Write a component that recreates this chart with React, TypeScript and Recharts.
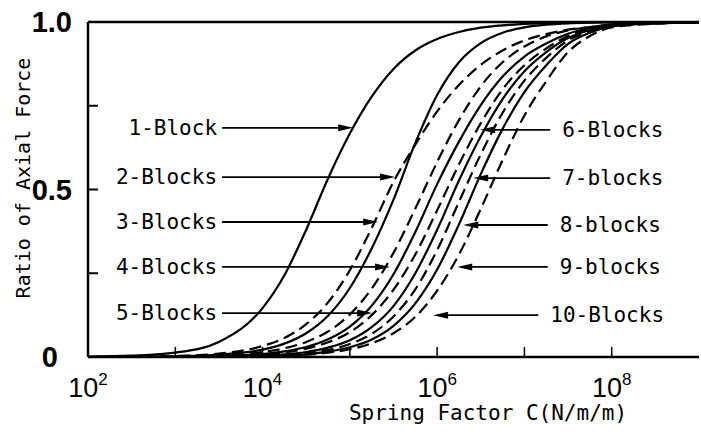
import { LineChart, Line, XAxis, YAxis, ReferenceLine } from "recharts";

// spring factor C, sampled every quarter/half decade
const springFactor = [
  100, 316, 1000, 3162, 10000, 17783, 31623, 56234, 100000, 177828, 316228,
  562341, 1000000, 1778279, 3162278, 5623413, 10000000, 17782794, 31622777,
  56234133, 100000000, 316227766, 1000000000,
];

const block1 = [0.001, 0.004, 0.013, 0.045, 0.146, 0.244, 0.38, 0.533, 0.667, 0.777, 0.86, 0.915, 0.949, 0.97, 0.983, 0.99, 0.994, 0.997, 0.998, 0.999, 1, 1, 1];
const block2 = [0, 0.001, 0.003, 0.01, 0.033, 0.057, 0.098, 0.163, 0.259, 0.385, 0.523, 0.634, 0.733, 0.812, 0.872, 0.915, 0.945, 0.964, 0.977, 0.985, 0.991, 0.996, 0.998];
const block3 = [0, 0.0005, 0.002, 0.007, 0.022, 0.04, 0.071, 0.123, 0.206, 0.324, 0.47, 0.639, 0.782, 0.88, 0.937, 0.968, 0.984, 0.992, 0.996, 0.998, 0.999, 1, 1];
const block4 = [0, 0.0005, 0.0015, 0.005, 0.015, 0.026, 0.045, 0.076, 0.127, 0.204, 0.311, 0.443, 0.582, 0.707, 0.808, 0.88, 0.927, 0.957, 0.975, 0.985, 0.991, 0.997, 0.999];
const block5 = [0, 0, 0.001, 0.003, 0.009, 0.017, 0.03, 0.053, 0.091, 0.153, 0.247, 0.373, 0.516, 0.643, 0.752, 0.837, 0.897, 0.936, 0.965, 0.982, 0.993, 0.997, 0.999];
const block6 = [0, 0, 0.001, 0.003, 0.008, 0.014, 0.025, 0.044, 0.074, 0.125, 0.201, 0.306, 0.438, 0.575, 0.698, 0.799, 0.871, 0.921, 0.958, 0.979, 0.991, 0.997, 0.999];
const block7 = [0, 0, 0, 0.001, 0.005, 0.008, 0.015, 0.028, 0.05, 0.089, 0.152, 0.25, 0.38, 0.527, 0.659, 0.77, 0.853, 0.91, 0.952, 0.976, 0.99, 0.997, 0.999];
const block8 = [0, 0, 0, 0.001, 0.003, 0.006, 0.012, 0.021, 0.039, 0.069, 0.121, 0.202, 0.319, 0.463, 0.605, 0.729, 0.825, 0.893, 0.945, 0.973, 0.989, 0.996, 0.999];
const block9 = [0, 0, 0, 0, 0.002, 0.005, 0.008, 0.016, 0.029, 0.052, 0.093, 0.16, 0.261, 0.396, 0.546, 0.681, 0.791, 0.871, 0.935, 0.968, 0.987, 0.996, 0.999];
const block10 = [0, 0, 0, 0, 0.002, 0.004, 0.007, 0.013, 0.023, 0.041, 0.071, 0.12, 0.198, 0.306, 0.442, 0.588, 0.721, 0.823, 0.91, 0.958, 0.984, 0.995, 0.999];

const seriesValues = [block1, block2, block3, block4, block5, block6, block7, block8, block9, block10];
const seriesNames = ["1-Block", "2-Blocks", "3-Blocks", "4-Blocks", "5-Blocks", "6-Blocks", "7-blocks", "8-blocks", "9-blocks", "10-Blocks"];
const dashedSeries = [false, true, false, true, false, true, false, true, false, true];

const xTicks = [1e2, 1e4, 1e6, 1e8];
const xMinorTicks = [1e3, 1e4, 1e5, 1e6, 1e7, 1e8];
const yTicks = [0, 0.5, 1];
const yMinorTicks = [0.25, 0.5, 0.75];

// arrow callouts: tail C, head C, ratio
const leftNotes = [
  { label: "1-Block", from: 3436, to: 109000, y: 0.684 },
  { label: "2-Blocks", from: 3436, to: 330000, y: 0.537 },
  { label: "3-Blocks", from: 3436, to: 211000, y: 0.403 },
  { label: "4-Blocks", from: 3436, to: 289000, y: 0.269 },
  { label: "5-Blocks", from: 3436, to: 180000, y: 0.131 },
];
const rightNotes = [
  { label: "6-Blocks", from: 19700000, to: 3110000, y: 0.678 },
  { label: "7-blocks", from: 19700000, to: 2590000, y: 0.534 },
  { label: "8-blocks", from: 18500000, to: 1990000, y: 0.394 },
  { label: "9-blocks", from: 18500000, to: 1700000, y: 0.269 },
  { label: "10-Blocks", from: 14400000, to: 900000, y: 0.125 },
];

const data = springFactor.map((c, i) => {
  const row: Record<string, number> = { c };
  seriesValues.forEach((s, k) => {
    row["b" + (k + 1)] = s[i];
  });
  return row;
});

const MONO = "'DejaVu Sans Mono', monospace";
const SANS = "'Liberation Sans', Arial, sans-serif";

function XTick({ x, y, payload }: any) {
  const exp = Math.round(Math.log10(payload.value));
  return (
    <text x={x} y={y + 32} textAnchor="middle" fontFamily={SANS} fontSize={27} fill="#000">
      <tspan>10</tspan>
      <tspan dy={-12} fontSize={17}>
        {exp}
      </tspan>
    </text>
  );
}

function YTick({ x, y, payload }: any) {
  const v = payload.value;
  const label = v === 0 ? "0" : v.toFixed(1);
  const dx = v === 0 ? -22 : -8;
  const dy = v === 0 ? 10 : 10;
  return (
    <text x={x + dx} y={y + dy} textAnchor="end" fontFamily={SANS} fontWeight="bold" fontSize={29} fill="#000">
      {label}
    </text>
  );
}

function Arrow(props: any) {
  const { x1, y1, x2, y2, label, side } = props;
  const dir = x2 > x1 ? 1 : -1;
  const len = 15;
  const half = 3.5;
  const tx = side === "left" ? x1 - 5 : x1 + 12;
  return (
    <g>
      <line x1={x1} y1={y1} x2={x2 - dir * len * 0.6} y2={y2} stroke="#000" strokeWidth={1.8} />
      <polygon
        points={`${x2},${y2} ${x2 - dir * len},${y2 - half} ${x2 - dir * len},${y2 + half}`}
        fill="#000"
      />
      <text
        x={tx}
        y={y1}
        dominantBaseline="central"
        textAnchor={side === "left" ? "end" : "start"}
        fontFamily={MONO}
        fontSize={21}
        fill="#000"
      >
        {label}
      </text>
    </g>
  );
}

export default function App() {
  return (
    <div style={{ position: "absolute", left: 0, top: 0, width: 701, height: 432, background: "#fff" }}>
      <LineChart width={701} height={432} data={data} margin={{ top: 22, right: 2, bottom: 25, left: 28 }}>
        <XAxis
          dataKey="c"
          type="number"
          scale="log"
          domain={[1e2, 1e9]}
          ticks={xTicks}
          tick={<XTick />}
          tickLine={false}
          axisLine={{ stroke: "#000", strokeWidth: 2.5 }}
          height={50}
          allowDataOverflow
        />
        <YAxis
          type="number"
          domain={[0, 1]}
          ticks={yTicks}
          tick={<YTick />}
          tickLine={false}
          axisLine={{ stroke: "#000", strokeWidth: 2.5 }}
          width={60}
        />
        <ReferenceLine y={1} stroke="#000" strokeWidth={2.5} />
        {yMinorTicks.map((t) => (
          <ReferenceLine key={"y" + t} segment={[{ x: 100, y: t }, { x: 130, y: t }]} stroke="#000" strokeWidth={2} />
        ))}
        {xMinorTicks.map((t) => (
          <ReferenceLine key={"x" + t} segment={[{ x: t, y: 0 }, { x: t, y: 0.03 }]} stroke="#000" strokeWidth={1.5} />
        ))}
        {seriesNames.map((name, k) => (
          <Line
            key={name}
            name={name}
            dataKey={"b" + (k + 1)}
            type="monotone"
            stroke="#000"
            strokeWidth={2.2}
            strokeDasharray={dashedSeries[k] ? "12 6" : undefined}
            dot={false}
            isAnimationActive={false}
          />
        ))}
        {leftNotes.map((n) => (
          <ReferenceLine
            key={n.label}
            segment={[{ x: n.from, y: n.y }, { x: n.to, y: n.y }]}
            shape={(p: any) => <Arrow {...p} label={n.label} side="left" />}
          />
        ))}
        {rightNotes.map((n) => (
          <ReferenceLine
            key={n.label}
            segment={[{ x: n.from, y: n.y }, { x: n.to, y: n.y }]}
            shape={(p: any) => <Arrow {...p} label={n.label} side="right" />}
          />
        ))}
        <text x={23} y={178} transform="rotate(-90 23 178)" textAnchor="middle" dominantBaseline="central" fontFamily={MONO} fontSize={20} fill="#000">
          Ratio of Axial Force
        </text>
        <text x={488} y={420} textAnchor="middle" fontFamily={MONO} fontSize={21} fill="#000">
          Spring Factor C(N/m/m)
        </text>
      </LineChart>
    </div>
  );
}
